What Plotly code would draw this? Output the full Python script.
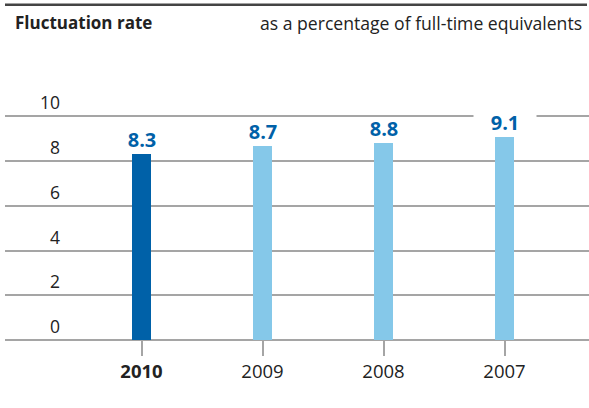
import plotly.graph_objects as go

# ---- data ----
years = ["2010", "2009", "2008", "2007"]
rates = [8.3, 8.7, 8.8, 9.1]
value_labels = ["8.3", "8.7", "8.8", "9.1"]
tick_labels = ["<b>2010</b>", "2009", "2008", "2007"]
y_ticks = [0, 2, 4, 6, 8, 10]
title = "Fluctuation rate"
subtitle = "as a percentage of full-time equivalents"

# ---- styling ----
DARK_BLUE = "#0061A8"
LIGHT_BLUE = "#85C8E9"
bar_colors = [DARK_BLUE, LIGHT_BLUE, LIGHT_BLUE, LIGHT_BLUE]
GRID = "#a5a5a5"
TEXT = "#222222"
FONT = "Open Sans"

W, H = 589, 408
left_px, right_px = 5, 589
y0_px, y10_px = 340, 116
ppu = (y0_px - y10_px) / 10.0
ymax = 10.2
top_px = y0_px - ymax * ppu
plot_h = y0_px - top_px
plot_w = right_px - left_px

# category spacing in pixels
c0_px, c3_px = 141.5, 504.5
cpu = (c3_px - c0_px) / 3.0
xr = [(left_px - c0_px) / cpu, (right_px - c0_px) / cpu]
xpos = list(range(len(years)))


def py(px):
    return (y0_px - px) / plot_h


def pxx(px):
    return (px - left_px) / plot_w


fig = go.Figure()
fig.add_trace(go.Bar(
    x=xpos, y=rates, marker=dict(color=bar_colors, line=dict(width=0)),
    width=19 / cpu, hoverinfo="skip", showlegend=False,
))

annotations = []
# value labels above bars (white box only where the label would cross a gridline)
for i, v, lab in zip(xpos, rates, value_labels):
    annotations.append(dict(
        x=i, y=v, xref="x", yref="y", text="<b>%s</b>" % lab,
        showarrow=False, yanchor="bottom", yshift=0, width=62,
        bgcolor="white" if v > 9 else "rgba(0,0,0,0)", borderpad=0,
        font=dict(family=FONT, size=20, color=DARK_BLUE),
    ))
# y tick labels (placed above gridlines)
for t in y_ticks:
    annotations.append(dict(
        x=pxx(62), y=t, xref="paper", yref="y", text=str(t),
        showarrow=False, xanchor="right", yanchor="bottom", yshift=0,
        font=dict(family=FONT, size=17.5, color=TEXT),
    ))
# header
annotations.append(dict(
    x=pxx(13), y=py(22), xref="paper", yref="paper", text="<b>%s</b>" % title,
    showarrow=False, xanchor="left", yanchor="middle",
    font=dict(family=FONT, size=17, color=TEXT),
))
annotations.append(dict(
    x=pxx(584), y=py(22), xref="paper", yref="paper", text=subtitle,
    showarrow=False, xanchor="right", yanchor="middle",
    font=dict(family=FONT, size=17.6, color=TEXT),
))

fig.update_layout(
    width=W, height=H,
    margin=dict(l=left_px, r=W - right_px, t=top_px, b=H - y0_px, pad=0),
    paper_bgcolor="white", plot_bgcolor="white",
    bargap=0,
    annotations=annotations,
    shapes=[dict(type="line", xref="paper", yref="paper",
                 x0=pxx(5), x1=pxx(587), y0=py(4), y1=py(4),
                 line=dict(color="#444444", width=2.5))],
    xaxis=dict(
        type="linear", range=xr, showgrid=False, zeroline=False,
        showline=False, ticks="outside", ticklen=15, tickwidth=1.5,
        tickcolor=GRID, tickvals=xpos, ticktext=tick_labels,
        tickfont=dict(family=FONT, size=18.5, color=TEXT),
    ),
    yaxis=dict(
        range=[0, ymax], tickvals=y_ticks, showticklabels=False,
        showgrid=True, gridcolor=GRID, gridwidth=1.5,
        zeroline=True, zerolinecolor=GRID, zerolinewidth=1.5,
        showline=False, ticks="",
    ),
)

fig.write_html("out.html", config={"displayModeBar": False},
               post_script="document.body.style.margin='0px';")
